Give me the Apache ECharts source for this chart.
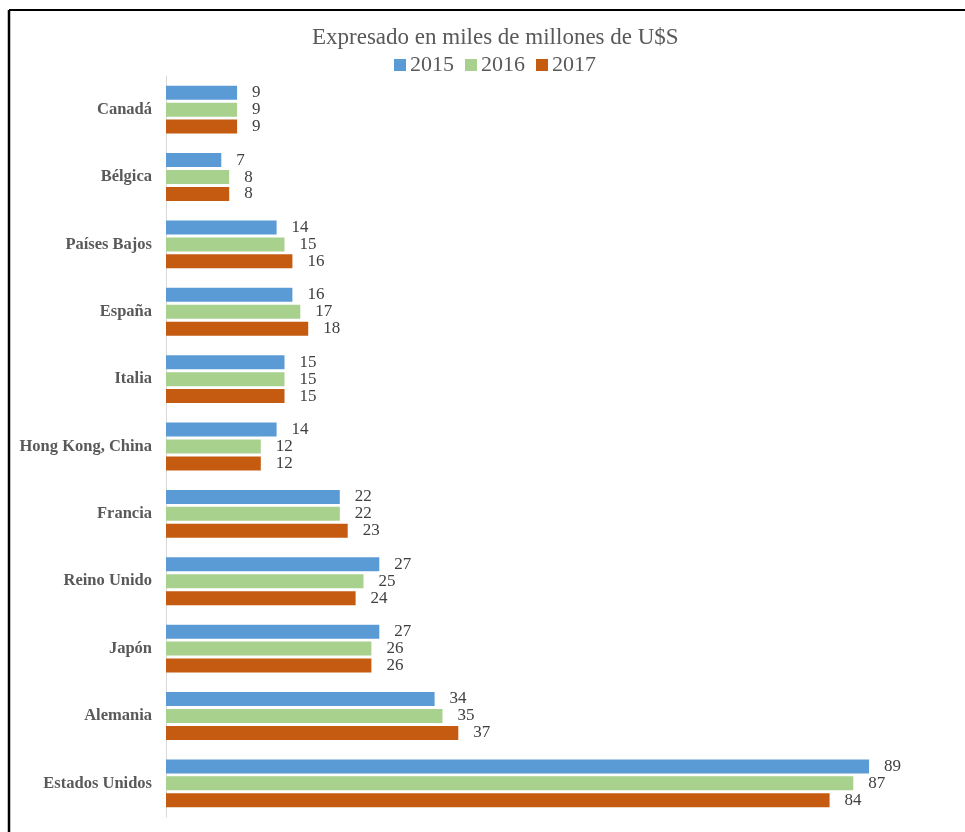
<!DOCTYPE html>
<html>
<head>
<meta charset="utf-8">
<script src="https://cdn.jsdelivr.net/npm/echarts@6/dist/echarts.min.js"></script>
<style>
  html, body { margin: 0; padding: 0; background: #ffffff; }
  #chart { width: 965px; height: 832px; }
</style>
</head>
<body>
<div id="chart"></div>
<script>
// Exportaciones por país, en miles de millones de U$S
const countries = ['Canadá', 'Bélgica', 'Países Bajos', 'España', 'Italia', 'Hong Kong, China',
                   'Francia', 'Reino Unido', 'Japón', 'Alemania', 'Estados Unidos'];
const years = ['2015', '2016', '2017'];
const values2015 = [9, 7, 14, 16, 15, 14, 22, 27, 27, 34, 89];
const values2016 = [9, 8, 15, 17, 15, 12, 22, 25, 26, 35, 87];
const values2017 = [9, 8, 16, 18, 15, 12, 23, 24, 26, 37, 84];
const colors = ['#5b9bd5', '#a9d18e', '#c55a11'];

const serif = '"Liberation Serif", "DejaVu Serif", serif';
const chart = echarts.init(document.getElementById('chart'));

function makeSeries(name, data, color) {
  return {
    name: name,
    type: 'bar',
    data: data,
    barWidth: 14,
    barGap: '21%',
    itemStyle: { color: color },
    label: {
      show: true,
      position: 'right',
      distance: 15,
      fontFamily: serif,
      fontSize: 17,
      color: '#404040'
    }
  };
}

chart.setOption({
  animation: false,
  title: {
    text: 'Expresado en miles de millones de U$S',
    left: 312,
    top: 26,
    padding: 0,
    textStyle: { fontFamily: serif, fontSize: 23, fontWeight: 'normal', color: '#595959' }
  },
  legend: {
    data: years,
    top: 54,
    left: 394,
    padding: 0,
    itemWidth: 12,
    itemHeight: 12,
    itemGap: 11,
    icon: 'rect',
    textStyle: { fontFamily: serif, fontSize: 22, color: '#595959', padding: [0, 0, 0, -1] }
  },
  grid: { left: 166, top: 76, width: 790, height: 741, containLabel: false },
  xAxis: {
    type: 'value',
    min: 0,
    max: 100,
    show: false
  },
  yAxis: {
    type: 'category',
    data: countries,
    inverse: true,
    axisLine: { show: true, lineStyle: { color: '#d9d9d9', width: 1 } },
    axisTick: { show: false },
    axisLabel: {
      margin: 14,
      fontFamily: serif,
      fontSize: 16.5,
      fontWeight: 'bold',
      color: '#595959'
    }
  },
  series: [
    makeSeries(years[0], values2015, colors[0]),
    makeSeries(years[1], values2016, colors[1]),
    makeSeries(years[2], values2017, colors[2])
  ],
  graphic: [
    { type: 'line', shape: { x1: 9, y1: 10, x2: 965, y2: 10 }, style: { stroke: '#000000', lineWidth: 2 } },
    { type: 'line', shape: { x1: 9, y1: 10, x2: 9, y2: 832 }, style: { stroke: '#000000', lineWidth: 2.5 } }
  ]
});
</script>
</body>
</html>
